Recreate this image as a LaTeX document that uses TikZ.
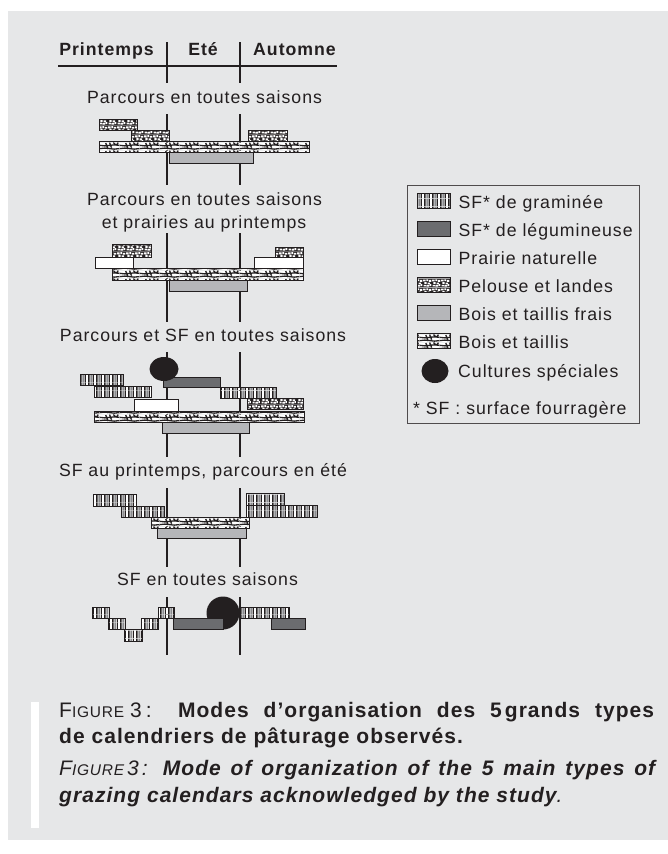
\documentclass[tikz,border=0pt]{standalone}
\usepackage{fontspec}
\setmainfont{Liberation Sans}[LetterSpace=5.5]
\newfontfamily\capfam{Liberation Sans}[LetterSpace=5]
\usepackage{tikz}
\usetikzlibrary{patterns,positioning,shapes.geometric}

\definecolor{panel}{HTML}{E6E7E8}
\definecolor{ink}{HTML}{231F20}
\definecolor{leguFill}{HTML}{6B6C6F}
\definecolor{fraisFill}{HTML}{B5B6B9}
\definecolor{stripeGrey}{HTML}{8A8B8E}

\newcommand\capsc{\fontsize{15.5}{18}\selectfont}
\newcommand\capfont{\capfam\fontsize{21}{25}\selectfont}

% ---- fill patterns ----
\pgfdeclarepatterninherentlycolored{graminee}
{\pgfpointorigin}{\pgfqpoint{8pt}{8pt}}{\pgfqpoint{8pt}{8pt}}
{%
  \pgfsetfillcolor{white}%
  \pgfpathrectangle{\pgfpointorigin}{\pgfqpoint{8pt}{8pt}}\pgfusepath{fill}%
  \pgfsetfillcolor{ink}%
  \pgfpathrectangle{\pgfqpoint{0pt}{0pt}}{\pgfqpoint{1.8pt}{8pt}}\pgfusepath{fill}%
  \pgfsetfillcolor{stripeGrey}%
  \pgfpathrectangle{\pgfqpoint{2.6pt}{0pt}}{\pgfqpoint{1.8pt}{8pt}}\pgfusepath{fill}%
  \pgfsetfillcolor{ink}%
  \pgfpathrectangle{\pgfqpoint{5.2pt}{0pt}}{\pgfqpoint{1.2pt}{8pt}}\pgfusepath{fill}%
}
\pgfdeclarepatterninherentlycolored{pelouse}
{\pgfpointorigin}{\pgfqpoint{9pt}{9pt}}{\pgfqpoint{9pt}{9pt}}
{%
  \pgfsetfillcolor{ink}%
  \pgfpathrectangle{\pgfpointorigin}{\pgfqpoint{9pt}{9pt}}\pgfusepath{fill}%
  \pgfsetfillcolor{white}%
  \pgfpathrectangle{\pgfqpoint{0.6pt}{0.6pt}}{\pgfqpoint{2.4pt}{1.8pt}}%
  \pgfpathrectangle{\pgfqpoint{3.8pt}{0.4pt}}{\pgfqpoint{2.8pt}{1.8pt}}%
  \pgfpathrectangle{\pgfqpoint{7.2pt}{1pt}}{\pgfqpoint{1.5pt}{2pt}}%
  \pgfpathrectangle{\pgfqpoint{1.6pt}{3.3pt}}{\pgfqpoint{2.3pt}{2pt}}%
  \pgfpathrectangle{\pgfqpoint{5pt}{3pt}}{\pgfqpoint{2.8pt}{1.8pt}}%
  \pgfpathrectangle{\pgfqpoint{0.2pt}{6pt}}{\pgfqpoint{2.6pt}{1.9pt}}%
  \pgfpathrectangle{\pgfqpoint{3.6pt}{6.2pt}}{\pgfqpoint{2pt}{2.1pt}}%
  \pgfpathrectangle{\pgfqpoint{6.4pt}{5.6pt}}{\pgfqpoint{2.3pt}{2pt}}%
  \pgfusepath{fill}%
}
\pgfdeclarepatterninherentlycolored{bois}
{\pgfpointorigin}{\pgfqpoint{20pt}{8pt}}{\pgfqpoint{20pt}{8pt}}
{%
  \pgfsetfillcolor{white}%
  \pgfpathrectangle{\pgfpointorigin}{\pgfqpoint{20pt}{8pt}}\pgfusepath{fill}%
  \pgfsetstrokecolor{ink}%
  \pgfsetlinewidth{1.4pt}%
  \pgfpathmoveto{\pgfqpoint{0pt}{1.5pt}}%
  \pgfpathcurveto{\pgfqpoint{7pt}{3.5pt}}{\pgfqpoint{13pt}{-0.5pt}}{\pgfqpoint{20pt}{1.5pt}}%
  \pgfpathmoveto{\pgfqpoint{0pt}{5pt}}%
  \pgfpathcurveto{\pgfqpoint{7pt}{3pt}}{\pgfqpoint{13pt}{7pt}}{\pgfqpoint{20pt}{5pt}}%
  \pgfpathmoveto{\pgfqpoint{6pt}{7.5pt}}\pgfpathlineto{\pgfqpoint{8.5pt}{1pt}}%
  \pgfpathmoveto{\pgfqpoint{10pt}{8pt}}\pgfpathlineto{\pgfqpoint{12pt}{2.5pt}}%
  \pgfpathmoveto{\pgfqpoint{14pt}{8pt}}%
  \pgfpathcurveto{\pgfqpoint{16pt}{5pt}}{\pgfqpoint{18pt}{5pt}}{\pgfqpoint{19pt}{8pt}}%
  \pgfusepath{stroke}%
}

\begin{document}
\begin{tikzpicture}[
  x=1pt, y=-1pt,
  every node/.style={text=ink, inner sep=0pt, font=\fontsize{17.7}{22}\selectfont},
  head/.style={anchor=base, font=\fontsize{17.7}{22}\selectfont\bfseries},
  ttl/.style={anchor=base},
  season/.style={draw=ink, line width=1.3pt},
  bar/.style={draw=ink, line width=0.9pt},
  gram/.style={bar, pattern=graminee},
  legu/.style={bar, fill=leguFill},
  prai/.style={bar, fill=white},
  pel/.style={bar, pattern=pelouse},
  frais/.style={bar, fill=fraisFill},
  bois/.style={bar, pattern=bois},
  cult/.style={fill=ink},
  swatch/.style={minimum width=33pt, minimum height=15pt},
  lab/.style={anchor=base west},
  captxt/.style={anchor=base west, font=\capfont}
]
\useasboundingbox (0,0) rectangle (668,854);
\fill[white] (0,0) rectangle (668,854);
\fill[panel] (8,11) rectangle (668,840);

% ---- header ----
\node[head] (hPrin) at (106.5,55) {Printemps};
\node[head] (hEte)  at (203,55)   {Eté};
\node[head] (hAut)  at (294.5,55) {Automne};
\draw[season] (58,66) -- (337,66);

% ---- season limits ----
\foreach \ya/\yb in {42/83, 114/185, 233/322, 352/457, 488/567, 597/655}{
  \draw[season] (167,\ya) -- (167,\yb);
  \draw[season] (240,\ya) -- (240,\yb);
}

% ---- calendar 1 ----
\node[ttl] (ttlA) at (204.5,103) {Parcours en toutes saisons};
\draw[pel] (99,119) rectangle (137,130);
\draw[pel] (131,130) rectangle (169,141);
\draw[pel] (248,130) rectangle (287,141);
\draw[bois] (99,141) rectangle (309,152);
\draw[frais] (169,152) rectangle (253,163);

% ---- calendar 2 ----
\node[ttl] (ttlB) at (204.5,205) {Parcours en toutes saisons};
\node[ttl] (ttlBb) at (204,228) {et prairies au printemps};
\draw[pel] (112,244) rectangle (151,257);
\draw[prai] (95,257) rectangle (133,268);
\draw[pel] (275,247) rectangle (303,257);
\draw[prai] (254,257) rectangle (303,268);
\draw[bois] (112,268) rectangle (303,280);
\draw[frais] (169,280) rectangle (247,291);

% ---- calendar 3 ----
\node[ttl] (ttlC) at (203,341.5) {Parcours et SF en toutes saisons};
\draw[legu] (163,377) rectangle (220,387);
\fill[cult] (164,369) ellipse [x radius=14.5, y radius=12];
\draw[gram] (80,374) rectangle (123,385);
\draw[gram] (94,386) rectangle (151,397);
\draw[gram] (220,387) rectangle (276,398);
\draw[prai] (134,399) rectangle (178,411);
\draw[pel] (247,398) rectangle (303,409);
\draw[bois] (94,411) rectangle (304,422);
\draw[frais] (162,422) rectangle (249,433);

% ---- calendar 4 ----
\node[ttl] (ttlD) at (203,476.5) {SF au printemps, parcours en été};
\draw[gram] (93,494) rectangle (136,506);
\draw[gram] (121,506) rectangle (164,517);
\draw[gram] (246,493) rectangle (284,505);
\draw[gram] (246,505) rectangle (317,517);
\draw[bois] (151,517) rectangle (249,528);
\draw[frais] (157,528) rectangle (246,538);

% ---- calendar 5 ----
\node[ttl] (ttlE) at (207.5,585.5) {SF en toutes saisons};
\fill[cult] (223,613) circle (16.5);
\draw[legu] (173,618) rectangle (223,629);
\draw[gram] (92,607) rectangle (109,618);
\draw[gram] (108,618) rectangle (125,629);
\draw[gram] (124,629) rectangle (142,641);
\draw[gram] (141,618) rectangle (158,629);
\draw[gram] (158,607) rectangle (174,618);
\draw[gram] (240,607) rectangle (289,618);
\draw[legu] (271,618) rectangle (305,629);

% ---- legend ----
\draw[draw=ink!80, line width=0.8pt] (407,185) rectangle (639,423);
\node[swatch, gram] (swGram) at (433.5,200.5) {};
\node[swatch, legu] (swLegu) at (433.5,228.5) {};
\node[swatch, prai] (swPrai) at (433.5,256.5) {};
\node[swatch, pel] (swPel) at (433.5,284.5) {};
\node[swatch, frais] (swFrais) at (433.5,312.5) {};
\node[swatch, bois] (swBois) at (433.5,340.5) {};
\node[cult, ellipse, minimum width=27pt, minimum height=24pt] (swCult) at (435,371) {};
\node[lab] (lbGram) at ([xshift=8pt]swGram.south east) {SF* de graminée};
\node[lab] (lbLegu) at ([xshift=8pt]swLegu.south east) {SF* de légumineuse};
\node[lab] (lbPrai) at ([xshift=8pt]swPrai.south east) {Prairie naturelle};
\node[lab] (lbPel) at ([xshift=8pt]swPel.south east) {Pelouse et landes};
\node[lab] (lbFrais) at ([xshift=8pt]swFrais.south east) {Bois et taillis frais};
\node[lab] (lbBois) at ([xshift=8pt]swBois.south east) {Bois et taillis};
\node[lab] (lbCult) at (458,377.5) {Cultures spéciales};
\node[lab] (lbSF) at (413,414) {* SF : surface fourragère};

% ---- caption ----
\fill[white] (31,702) rectangle (39,828);
\node[captxt] (capFrA) at (59,717)
  {\makebox[596pt][s]{F{\capsc IGURE}\hspace{6pt}3\hspace{4pt}: \textbf{Modes d’organisation des 5\hspace{3pt}grands types}}};
\node[captxt] (capFrB) at (59,743) {\textbf{de calendriers de pâturage observés.}};
\node[captxt] (capEnA) at (59,775)
  {\makebox[596pt][s]{\itshape F{\capsc IGURE}\hspace{3pt}3\hspace{3pt}: \textbf{Mode of organization of the 5 main types of}}};
\node[captxt] (capEnB) at (59,802) {\itshape\textbf{grazing calendars acknowledged by the study}.};
\end{tikzpicture}
\end{document}
